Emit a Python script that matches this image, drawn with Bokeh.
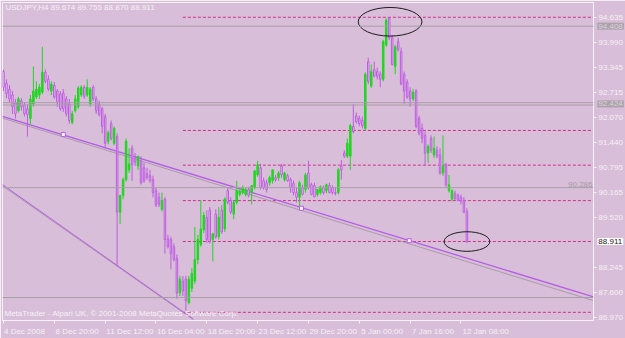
from bokeh.plotting import figure
from bokeh.models import Range1d, FixedTicker, NumeralTickFormatter, Label, ColumnDataSource, Span, Text
from bokeh.core.properties import value
from bokeh.embed import file_html
from bokeh.resources import INLINE

symbol = "USDJPY,H4"

opens = [93.25, 92.95, 92.80, 92.65, 92.45, 92.25, 92.50, 92.40, 92.30, 92.05,
         92.42, 92.60, 92.65, 92.72, 93.23, 93.05, 92.75, 92.90, 92.75, 92.68,
         92.70, 92.55, 92.42, 91.95, 92.25, 92.35, 92.65, 92.85, 92.65, 92.42,
         92.85, 92.55, 92.42, 92.30, 92.10, 91.47, 91.92, 91.42, 91.59, 89.66,
         90.09, 90.49, 90.74, 91.29, 91.04, 90.84, 90.97, 90.79, 90.64, 90.59,
         90.49, 90.21, 90.04, 89.73, 89.99, 88.98, 88.96, 88.78, 88.48, 87.60,
         87.90, 87.95, 87.35, 87.72, 87.90, 88.45, 88.83, 89.21, 89.53, 89.71,
         88.96, 89.61, 89.03, 89.71, 89.23, 90.21, 89.96, 89.61, 89.91, 90.11,
         90.16, 90.11, 90.24, 90.16, 90.29, 90.61, 90.79, 90.46, 90.41, 90.41,
         90.46, 90.54, 90.54, 90.84, 90.49, 90.59, 90.49, 90.39, 90.16, 90.04,
         90.29, 90.24, 90.66, 90.36, 90.34, 90.11, 90.16, 90.29, 90.21, 90.34,
         90.29, 90.16, 90.16, 90.84, 91.17, 91.09, 91.09, 91.85, 92.12, 92.05,
         92.00, 91.80, 93.50, 92.88, 93.30, 93.25, 93.18, 93.05, 93.93, 94.61,
         94.11, 93.38, 94.01, 93.76, 93.18, 92.98, 92.75, 92.55, 92.75, 92.05,
         91.80, 91.62, 91.17, 91.54, 91.12, 91.24, 91.12, 90.66, 90.87, 90.21,
         89.99, 90.14, 90.09, 90.04, 89.96, 89.674]

highs = [93.30, 93.05, 92.90, 92.75, 92.55, 92.60, 92.57, 92.47, 92.42, 92.65,
         93.38, 93.00, 92.93, 93.88, 93.30, 93.15, 93.00, 92.98, 92.80, 92.75,
         92.80, 92.62, 92.55, 92.25, 92.65, 92.88, 92.90, 92.90, 93.05, 92.85,
         92.90, 92.62, 92.50, 92.35, 92.17, 91.74, 92.00, 91.85, 91.67, 90.09,
         90.54, 91.54, 91.29, 91.37, 91.17, 91.09, 91.09, 90.92, 90.79, 90.74,
         90.59, 90.29, 90.16, 90.16, 90.04, 89.08, 89.03, 88.86, 88.58, 88.03,
         88.03, 88.03, 88.03, 88.23, 89.28, 89.08, 89.96, 89.66, 89.71, 89.79,
         89.13, 89.73, 89.79, 89.84, 90.04, 90.29, 90.04, 89.96, 90.46, 90.24,
         90.34, 90.29, 90.31, 90.34, 90.74, 90.97, 90.89, 90.54, 90.49, 90.59,
         90.74, 90.61, 90.71, 90.89, 90.69, 90.64, 90.54, 90.46, 90.29, 90.46,
         90.36, 90.66, 90.97, 90.41, 90.41, 90.24, 90.34, 90.34, 90.39, 90.41,
         90.34, 90.29, 90.79, 90.99, 91.24, 91.54, 91.92, 92.42, 92.20, 92.12,
         92.10, 93.23, 93.60, 93.43, 93.50, 93.35, 93.25, 94.06, 94.61, 94.635,
         94.18, 93.93, 94.11, 93.86, 93.25, 93.05, 92.85, 92.80, 92.80, 92.12,
         91.92, 91.72, 91.39, 91.62, 91.59, 91.34, 91.29, 91.62, 90.92, 90.61,
         90.24, 90.21, 90.14, 90.11, 90.04, 89.755]

lows = [92.75, 92.57, 92.45, 92.17, 92.05, 92.20, 92.25, 92.10, 91.59, 91.90,
        92.35, 92.55, 92.55, 92.68, 92.95, 92.75, 92.65, 92.55, 92.35, 92.25,
        92.22, 92.10, 91.92, 91.90, 92.20, 92.30, 92.60, 92.55, 92.60, 92.35,
        92.50, 92.17, 92.10, 91.67, 91.29, 91.39, 91.49, 91.37, 88.28, 89.36,
        89.99, 90.44, 90.66, 90.46, 90.84, 90.74, 90.36, 90.41, 90.49, 90.41,
        90.04, 89.79, 89.79, 89.68, 88.60, 88.73, 88.20, 88.40, 87.45, 87.52,
        87.52, 87.15, 87.30, 87.62, 87.83, 88.33, 88.78, 89.13, 88.88, 88.86,
        88.40, 88.98, 88.96, 89.11, 89.16, 89.86, 89.61, 89.48, 89.86, 90.06,
        90.11, 90.06, 90.04, 89.86, 90.24, 90.56, 90.24, 90.24, 90.16, 90.34,
        90.39, 90.44, 90.46, 90.54, 90.44, 90.44, 90.16, 90.09, 89.91, 89.73,
        90.09, 90.16, 90.24, 90.09, 90.04, 90.06, 90.11, 90.11, 90.14, 90.14,
        90.11, 90.09, 90.11, 90.49, 91.04, 91.04, 90.74, 91.67, 91.92, 91.85,
        91.80, 91.75, 92.93, 92.83, 93.10, 93.05, 92.85, 93.00, 93.88, 94.06,
        93.40, 93.18, 93.76, 92.90, 92.42, 92.55, 92.35, 92.50, 91.80, 91.62,
        91.42, 90.84, 90.92, 91.17, 91.04, 91.04, 90.61, 90.59, 90.29, 90.16,
        89.94, 89.96, 89.94, 89.86, 89.63, 88.870]

closes = [92.85, 92.68, 92.55, 92.35, 92.17, 92.55, 92.35, 92.17, 92.15, 92.55,
          92.75, 92.80, 92.85, 93.23, 93.00, 92.80, 92.93, 92.60, 92.45, 92.30,
          92.30, 92.17, 92.00, 92.17, 92.55, 92.83, 92.85, 92.62, 92.85, 92.80,
          92.55, 92.25, 92.15, 91.85, 91.42, 91.69, 91.54, 91.80, 89.66, 90.09,
          90.49, 91.47, 90.89, 90.87, 90.94, 91.09, 90.41, 90.46, 90.54, 90.46,
          90.16, 89.84, 89.86, 89.96, 88.96, 88.78, 88.60, 88.45, 87.60, 87.95,
          87.65, 87.40, 87.95, 88.10, 88.45, 88.96, 89.23, 89.58, 88.96, 88.91,
          89.11, 89.03, 89.53, 89.16, 89.99, 89.91, 89.66, 89.91, 90.21, 90.19,
          90.29, 90.24, 90.09, 90.34, 90.71, 90.87, 90.29, 90.29, 90.24, 90.54,
          90.74, 90.49, 90.66, 90.61, 90.66, 90.46, 90.29, 90.16, 90.04, 90.41,
          90.11, 90.61, 90.29, 90.11, 90.05, 90.24, 90.31, 90.16, 90.36, 90.16,
          90.16, 90.14, 90.74, 90.74, 91.09, 91.42, 91.87, 91.72, 91.97, 91.92,
          91.87, 93.18, 93.00, 93.25, 93.13, 93.13, 93.05, 94.01, 94.56, 94.11,
          93.43, 93.88, 93.81, 92.93, 92.75, 92.60, 92.55, 92.72, 91.85, 91.67,
          91.54, 91.17, 91.34, 91.24, 91.29, 91.09, 90.66, 90.84, 90.36, 90.36,
          90.21, 90.01, 89.96, 89.94, 89.66, 88.911]

date_ticks = [0, 17, 34, 51, 68, 85, 102, 119, 136, 153]
date_labels = ["4 Dec 2008", "8 Dec 20:00", "11 Dec 12:00", "16 Dec 04:00", "18 Dec 20:00",
               "23 Dec 12:00", "29 Dec 20:00", "5 Jan 00:00", "7 Jan 16:00", "12 Jan 08:00"]
price_ticks = [94.635, 93.990, 93.345, 92.715, 92.070, 91.440, 90.795, 90.165,
               89.520, 88.245, 87.600, 86.970]
dashed_levels = [94.635, 91.745, 90.860, 89.955, 88.911, 87.103]
solid_levels = [94.408, 92.455, 92.395, 90.286, 87.480]
tag_values = [94.408, 92.424, 88.911]

# ---- styling -----------------------------------------------------------
FONT = "Liberation Sans"
FS = "8px"
BG = "#D8BED8"
BULL = "#22D622"
BEAR_LINE = "#BE5CE0"
BEAR_FILL = "#E6D2EA"
TREND = "#B65CE8"
SHADOW = "#A89CA8"
DASH = "#D0308C"
GRAY = "#A89EA8"
LIGHT = "#F6F2F6"

n = len(closes)
idx = list(range(n))
is_bull = [c >= o for o, c in zip(opens, closes)]
src = ColumnDataSource(dict(
    x=idx, o=opens, h=highs, l=lows, c=closes,
    top=[max(o, c) for o, c in zip(opens, closes)],
    bot=[min(o, c) for o, c in zip(opens, closes)],
    line=[BULL if b else BEAR_LINE for b in is_bull],
    fill=[BULL if b else BEAR_FILL for b in is_bull],
))

XMIN, XMAX = -0.333, 197.333
p = figure(width=625, height=338, output_backend="svg", toolbar_location=None,
           x_range=Range1d(XMIN, XMAX), y_range=Range1d(86.894, 95.012),
           y_axis_location="right",
           min_border_left=2, min_border_top=2, min_border_right=30, min_border_bottom=13,
           background_fill_color=BG, border_fill_color=BG,
           outline_line_color=LIGHT)
p.grid.visible = False

xa = p.xaxis[0]
centers = [round(t + (len(s) * 3.8 / 2 + 2) / 3, 3) for t, s in zip(date_ticks, date_labels)]
xa.ticker = FixedTicker(ticks=centers, minor_ticks=date_ticks)
xa.major_label_overrides = {cx: s for cx, s in zip(centers, date_labels)}
xa.major_tick_out = 0
xa.major_tick_in = 0
xa.minor_tick_out = 3
xa.minor_tick_in = 0
xa.minor_tick_line_color = LIGHT
xa.axis_line_color = LIGHT
xa.major_label_standoff = 3
xa.major_label_text_font = FONT
xa.major_label_text_font_size = FS
xa.major_label_text_color = LIGHT

ya = p.yaxis[0]
ya.ticker = FixedTicker(ticks=price_ticks)
ya.formatter = NumeralTickFormatter(format="0.000")
ya.major_tick_out = 3
ya.major_tick_in = 0
ya.minor_tick_out = 0
ya.minor_tick_in = 0
ya.major_tick_line_color = LIGHT
ya.axis_line_color = LIGHT
ya.major_label_standoff = 2
ya.major_label_text_font = FONT
ya.major_label_text_font_size = FS
ya.major_label_text_color = LIGHT

for lv in solid_levels:
    p.add_layout(Span(location=lv, dimension="width", line_color=GRAY, line_width=1))
k = len(dashed_levels)
p.segment(x0=[60] * k, y0=dashed_levels, x1=[XMAX + 0.1] * k, y1=dashed_levels,
          line_color=DASH, line_width=1, line_dash="3 2")

p.segment(x0=[XMIN], y0=[92.06], x1=[XMAX], y1=[87.40], line_color=SHADOW, line_width=1)
p.segment(x0=[XMIN], y0=[92.107], x1=[XMAX], y1=[87.498], line_color=TREND, line_width=1.3)
p.segment(x0=[XMIN], y0=[90.33], x1=[63.6], y1=[86.91], line_color=SHADOW, line_width=1)
p.segment(x0=[XMIN], y0=[90.363], x1=[63.33], y1=[86.94], line_color=TREND, line_width=1)

p.segment(x0="x", y0="l", x1="x", y1="h", line_color="line", line_width=1, source=src)
p.vbar(x="x", width=0.5, top="top", bottom="bot", fill_color="fill", line_color="line",
       line_width=1, source=src)

p.scatter(x=[20, 99.67, 135.7], y=[91.644, 89.76, 88.93], marker="square", size=4,
          fill_color="white", line_color=TREND, line_width=1)

p.ellipse(x=[129.3, 155.0], y=[94.52, 88.91], width=[21.3, 15.3], height=[0.73, 0.50],
          fill_alpha=0, line_color="#1C1C1C", line_width=1)

header = f"{symbol}  {opens[-1]:.3f} {highs[-1]:.3f} {lows[-1]:.3f} {closes[-1]:.3f}"
p.add_layout(Label(x=0.67, y=94.886, text=header, text_font=FONT, text_font_size=FS,
                   text_color=LIGHT, text_baseline="middle"))
p.add_layout(Label(x=0.33, y=87.07, text="MetaTrader - Alpari UK, \u00a9 2001-2008 MetaQuotes Software Corp.",
                   text_font=FONT, text_font_size=FS, text_color=LIGHT, text_baseline="middle"))
p.add_layout(Label(x=197.0, y=90.286, y_offset=1, text=f"{solid_levels[3]:.3f}", text_font=FONT,
                   text_font_size=FS, text_color="#A49CA4", text_align="right", text_baseline="bottom"))

# price tags over the right scale (glyph anchored at the frame edge, shifted right)
tag_src = ColumnDataSource(dict(
    x=[XMAX - 0.05] * len(tag_values), y=tag_values,
    t=[f"{v:.3f}" for v in tag_values],
    bg=["#ABA2AB", "#ABA2AB", "#FFFFFF"],
    tc=["#DCD4DC", "#DCD4DC", "#202020"],
))
extra = {}
if "padding" in Text.properties():
    extra["padding"] = 1
p.text(x="x", y="y", text="t", source=tag_src, x_offset=4, text_align="left",
       text_baseline="middle", text_font=value(FONT), text_font_size=FS,
       text_color="tc", background_fill_color="bg", level="overlay", **extra)

open("out.html", "w").write(file_html(p, INLINE))
